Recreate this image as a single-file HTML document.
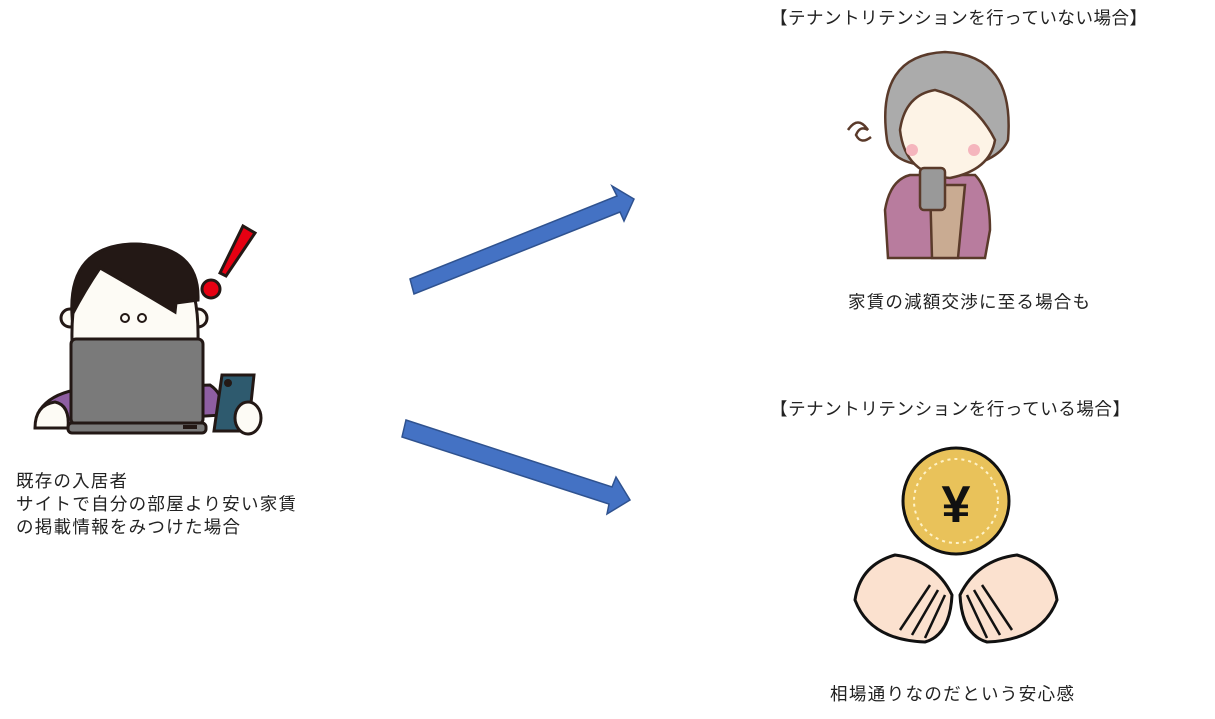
<!DOCTYPE html>
<html><head><meta charset="utf-8"><style>
html,body{margin:0;padding:0;background:#fff;width:1215px;height:719px;overflow:hidden}
svg{position:absolute;left:0;top:0}
text{font-family:"Liberation Sans","Noto Sans CJK JP",sans-serif;font-size:17.5px;fill:#222}
</style></head><body>
<svg width="1215" height="719" viewBox="0 0 1215 719">
<!-- arrows -->
<polygon points="410,279 617,196 612,186 634,199 624,221 620,212 414,294" fill="#4472C4" stroke="#2F528F" stroke-width="1.5"/>
<polygon points="406,420 612,487 616,477 630,500 607,514 609,504 402,437" fill="#4472C4" stroke="#2F528F" stroke-width="1.5"/>

<!-- left person -->
<g stroke="#231815" stroke-width="3">
<path d="M40,410 Q50,395 75,390 L210,385 Q225,395 222,415 L60,425 Z" fill="#8e5ea2"/>
<circle cx="70" cy="318" r="9" fill="#fdfbf5"/>
<circle cx="198" cy="318" r="9" fill="#fdfbf5"/>
<path d="M72,340 Q70,245 135,244 Q200,245 198,340 Z" fill="#fdfbf5"/>
<path d="M72,315 Q68,245 135,244 Q200,246 198,300 L176,303 L175,312 Q130,285 100,268 Q85,290 72,315 Z" fill="#231815"/>
<polygon points="220,273 243,226 255,233 226,276" fill="#e60012"/>
<circle cx="211" cy="289" r="9" fill="#e60012"/>
<rect x="71" y="339" width="132" height="85" rx="5" fill="#7a7a7a"/>
<rect x="68" y="423" width="138" height="10" rx="4" fill="#7a7a7a"/>
<polygon points="222,375 254,375 248,431 214,431" fill="#2e5a6e"/>
<ellipse cx="248" cy="418" rx="13" ry="16" fill="#fdfbf5"/>
<path d="M35,428 Q35,405 55,402 Q70,405 68,428 Z" fill="#fdfbf5"/>
</g>
<circle cx="228" cy="383" r="4" fill="#231815"/>
<rect x="183" y="425" width="14" height="4" fill="#231815"/>
<circle cx="125" cy="318" r="4" fill="none" stroke="#231815" stroke-width="2"/>
<circle cx="142" cy="318" r="4" fill="none" stroke="#231815" stroke-width="2"/>

<text x="16" y="487" textLength="111" lengthAdjust="spacing">既存の入居者</text>
<text x="16" y="510" textLength="280" lengthAdjust="spacing">サイトで自分の部屋より安い家賃</text>
<text x="16" y="533" textLength="224" lengthAdjust="spacing">の掲載情報をみつけた場合</text>

<!-- old woman -->
<g stroke="#5a3a2a" stroke-width="2.5">
<path d="M888,258 L885,210 Q890,180 910,175 L975,175 Q990,190 990,230 L985,258 Z" fill="#b87c9e"/>
<path d="M930,185 L965,185 L958,258 L932,258 Z" fill="#c9ab92"/>
<path d="M887,140 Q875,55 945,52 Q1015,55 1008,140 Q1000,160 960,168 L920,165 Q890,160 887,140 Z" fill="#ababab"/>
<path d="M900,130 Q905,95 935,90 Q975,100 995,140 Q990,170 950,178 Q905,175 900,130 Z" fill="#fdf3e6"/>
<rect x="920" y="168" width="25" height="42" rx="4" fill="#999"/>
<path d="M848,130 q10,-15 20,0 q-8,-5 -12,5 q5,10 15,2" fill="none"/>
</g>
<circle cx="912" cy="150" r="6" fill="#f5b5bd"/>
<circle cx="974" cy="150" r="6" fill="#f5b5bd"/>

<text x="770" y="24" textLength="377" lengthAdjust="spacing">【テナントリテンションを行っていない場合】</text>
<text x="848" y="308" textLength="242" lengthAdjust="spacing">家賃の減額交渉に至る場合も</text>
<text x="770" y="415" textLength="360" lengthAdjust="spacing">【テナントリテンションを行っている場合】</text>
<text x="830" y="700" textLength="244" lengthAdjust="spacing">相場通りなのだという安心感</text>

<!-- coin and hands -->
<circle cx="956" cy="501" r="53" fill="#e9c25a" stroke="#111" stroke-width="3"/>
<circle cx="956" cy="501" r="42" fill="none" stroke="#fff3c8" stroke-width="2" stroke-dasharray="3 4"/>
<text x="956" y="522" text-anchor="middle" style="font-size:52px;font-weight:bold;fill:#111">¥</text>
<g stroke="#111" stroke-width="3" fill="#fbe1cf">
<path d="M952,595 Q935,560 895,555 Q860,565 855,600 Q870,640 925,642 Q950,635 952,595 Z"/>
<path d="M960,595 Q977,560 1017,555 Q1052,565 1057,600 Q1042,640 987,642 Q962,635 960,595 Z"/>
</g>
<g stroke="#111" stroke-width="2.5">
<line x1="900" y1="630" x2="930" y2="585"/><line x1="912" y1="635" x2="938" y2="590"/><line x1="925" y1="638" x2="945" y2="595"/>
<line x1="1012" y1="630" x2="982" y2="585"/><line x1="1000" y1="635" x2="974" y2="590"/><line x1="987" y1="638" x2="967" y2="595"/>
</g>
</svg>
</body></html>
